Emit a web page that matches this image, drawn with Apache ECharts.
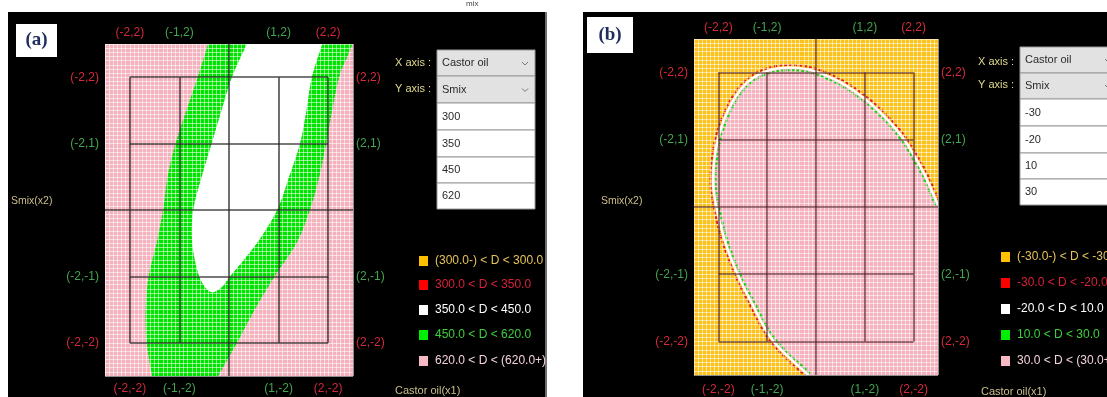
<!DOCTYPE html>
<html>
<head>
<meta charset="utf-8">
<script src="https://cdn.jsdelivr.net/npm/echarts@6/dist/echarts.min.js"></script>
<style>
  html, body { margin: 0; padding: 0; background: #ffffff; }
  #chart { width: 1107px; height: 397px; }
</style>
</head>
<body>
<div id="chart"></div>
<script>
// ---- Coded factor positions (x1 = Castor oil, x2 = Smix) ----
const tickValues = [-2, -1, 1, 2];
const gridLevels = [-2, -1, 0, 1, 2];

// ---- Panel (a): contour boundaries [x1, x2] ----
// left edge of the 450-620 band (top to bottom)
const aOuterLeft = [[-0.42, 2.5], [-0.63, 2.0], [-0.86, 1.5], [-1.08, 1.0], [-1.24, 0.5], [-1.33, 0.0],
  [-1.46, -0.5], [-1.62, -1.0], [-1.68, -1.5], [-1.66, -2.0], [-1.55, -2.5]];
// right edge of the 450-620 band (bottom to top)
const aOuterRight = [[-0.22, -2.5], [0.16, -2.0], [0.52, -1.5], [0.92, -1.0], [1.36, -0.5], [1.63, 0.0],
  [1.82, 0.5], [1.96, 1.0], [2.08, 1.5], [2.22, 2.0], [2.38, 2.3], [2.52, 2.55]];
// 350-450 region (left side down, round the tip, right side up)
const aInner = [[0.36, 2.5], [0.06, 2.0], [-0.15, 1.5], [-0.35, 1.0], [-0.55, 0.5], [-0.72, 0.0],
  [-0.74, -0.5], [-0.6, -1.0], [-0.38, -1.23], [-0.16, -1.17], [0.02, -1.0], [0.56, -0.5],
  [0.97, 0.0], [1.21, 0.5], [1.43, 1.0], [1.56, 1.5], [1.67, 2.0], [1.88, 2.5]];

// ---- Panel (b): boundary of the 30+ region (bottom edge, up the left, over the top, to the right edge) ----
const bCurve = [[-0.16, -2.5], [-0.88, -1.99], [-1.33, -1.41], [-1.62, -0.98], [-1.86, -0.52],
  [-2.03, -0.04], [-2.11, 0.4], [-2.03, 0.95], [-1.82, 1.41], [-1.52, 1.77], [-1.15, 1.98],
  [-0.68, 2.07], [-0.12, 2.04], [0.49, 1.86], [1.0, 1.61], [1.41, 1.34], [1.78, 1.03],
  [2.03, 0.74], [2.24, 0.46], [2.5, 0.03]];

// ---- Selector and legend texts ----
const factorNames = ['Castor oil', 'Smix'];
const levelsA = ['300', '350', '450', '620'];
const levelsB = ['-30', '-20', '10', '30'];
const legendA = ['(300.0-) < D < 300.0', '300.0 < D < 350.0', '350.0 < D < 450.0', '450.0 < D < 620.0', '620.0 < D < (620.0+)'];
const legendB = ['(-30.0-) < D < -30.0', '-30.0 < D < -20.0', '-20.0 < D < 10.0', '10.0 < D < 30.0', '30.0 < D < (30.0+)'];

// ---- Colours ----
const SWATCH = ['#ffc000', '#ff0000', '#ffffff', '#00ee00', '#f7b9c4'];
const LEGEND_TEXT = ['#e6c35a', '#d8203a', '#ffffff', '#3ccf3c', '#f3d2d8'];
const FILL_PINK = '#f3b2bd';
const FILL_GREEN = '#00e400';
const FILL_YELLOW = '#fbc21c';
const LBL_RED = '#d42a3c';
const LBL_GREEN = '#43a54f';
const TAN = '#cdbf8a';
const AXIS_TXT = '#e0da8e';
const FONT = 'Liberation Sans';
const TEXTURE = 'rgba(255,255,255,0.55)';

// Catmull-Rom smoothing of a pixel polyline
function smoothPts(pts, steps) {
  const out = [];
  const n = pts.length;
  for (let i = 0; i < n - 1; i++) {
    const p0 = pts[Math.max(i - 1, 0)], p1 = pts[i], p2 = pts[i + 1], p3 = pts[Math.min(i + 2, n - 1)];
    for (let s = 0; s < steps; s++) {
      const t = s / steps, t2 = t * t, t3 = t2 * t;
      const f = k => 0.5 * (2 * p1[k] + (-p0[k] + p2[k]) * t + (2 * p0[k] - 5 * p1[k] + 4 * p2[k] - p3[k]) * t2 + (-p0[k] + 3 * p1[k] - 3 * p2[k] + p3[k]) * t3);
      out.push([f(0), f(1)]);
    }
  }
  out.push(pts[n - 1]);
  return out;
}
// shift a pixel polyline sideways by d pixels (positive = left of travel on screen)
function shiftPts(pts, d) {
  return pts.map((p, i) => {
    const a = pts[Math.max(i - 1, 0)], b = pts[Math.min(i + 1, pts.length - 1)];
    const tx = b[0] - a[0], ty = b[1] - a[1];
    const l = Math.hypot(tx, ty) || 1;
    return [p[0] + d * ty / l, p[1] - d * tx / l];
  });
}

function renderA(params, api) {
  const cs = params.coordSys;
  const top = cs.y - 4, bottom = cs.y + cs.height + 4;
  const L = smoothPts(aOuterLeft.map(p => api.coord(p)), 8);
  const R = smoothPts(aOuterRight.map(p => api.coord(p)), 8);
  const W = smoothPts(aInner.map(p => api.coord(p)), 8);
  const green = [[L[0][0], top]].concat(L, [[L[L.length - 1][0], bottom], [R[0][0], bottom]], R, [[R[R.length - 1][0] + 4, top]]);
  const white = [[W[0][0], top]].concat(W, [[W[W.length - 1][0], top]]);
  return {
    type: 'group',
    children: [
      { type: 'polygon', shape: { points: green }, style: { fill: FILL_GREEN } },
      { type: 'polygon', shape: { points: white }, style: { fill: '#ffffff' } }
    ]
  };
}

function renderB(params, api) {
  const cs = params.coordSys;
  const right = cs.x + cs.width + 4, bottom = cs.y + cs.height + 4;
  const C = smoothPts(bCurve.map(p => api.coord(p)), 10);
  const first = C[0], last = C[C.length - 1];
  const poly = [[first[0], bottom]].concat(C, [[right, last[1]], [right, bottom]]);
  return {
    type: 'group',
    children: [
      { type: 'polygon', shape: { points: poly }, style: { fill: FILL_PINK } },
      { type: 'polyline', shape: { points: shiftPts(C, 2.6) }, style: { stroke: '#e0202e', lineWidth: 2, fill: 'none', lineDash: [3, 2] } },
      { type: 'polyline', shape: { points: C }, style: { stroke: '#ffffff', lineWidth: 2.2, fill: 'none' } },
      { type: 'polyline', shape: { points: shiftPts(C, -2.6) }, style: { stroke: '#14d414', lineWidth: 2, fill: 'none', lineDash: [3, 2] } }
    ]
  };
}

// reference frame: box lines at -2..2, the zero lines run edge to edge
function frameSegments() {
  const segs = [];
  gridLevels.forEach(v => {
    const ext = v === 0 ? 2.5 : 2;
    segs.push({ coords: [[v, -ext], [v, ext]] });
    segs.push({ coords: [[-ext, v], [ext, v]] });
  });
  return segs;
}

const richLabels = {
  r: { color: LBL_RED, fontSize: 12, fontFamily: FONT },
  g: { color: LBL_GREEN, fontSize: 12, fontFamily: FONT }
};
const tag = (v, text) => `{${Math.abs(v) === 1 ? 'g' : 'r'}|${text}}`;

function xMain(gridIndex, margin) {
  return {
    type: 'value', gridIndex, position: 'bottom', min: -2.5, max: 2.5, interval: 0.5, z: 4,
    axisLine: { show: false }, axisTick: { show: false },
    axisLabel: { customValues: tickValues, margin, formatter: v => tag(v, `(${v},-2)`), rich: richLabels },
    splitLine: { show: true, lineStyle: { color: TEXTURE, width: 1 } },
    minorTick: { show: false, splitNumber: 6 },
    minorSplitLine: { show: true, lineStyle: { color: TEXTURE, width: 1 } }
  };
}
function xTop(gridIndex, margin) {
  return {
    type: 'value', gridIndex, position: 'top', min: -2.5, max: 2.5, interval: 0.5, z: 4,
    axisLine: { show: false }, axisTick: { show: false }, splitLine: { show: false },
    axisLabel: { customValues: tickValues, margin, formatter: v => tag(v, `(${v},2)`), rich: richLabels }
  };
}
function yMain(gridIndex, margin) {
  return {
    type: 'value', gridIndex, position: 'left', min: -2.5, max: 2.5, interval: 0.5, z: 4,
    axisLine: { show: false }, axisTick: { show: false },
    axisLabel: { customValues: tickValues, margin, formatter: v => tag(v, `(-2,${v})`), rich: richLabels },
    splitLine: { show: true, lineStyle: { color: TEXTURE, width: 1 } },
    minorTick: { show: false, splitNumber: 8 },
    minorSplitLine: { show: true, lineStyle: { color: TEXTURE, width: 1 } }
  };
}
function yRight(gridIndex, margin) {
  return {
    type: 'value', gridIndex, position: 'right', min: -2.5, max: 2.5, interval: 0.5, z: 4,
    axisLine: { show: false }, axisTick: { show: false }, splitLine: { show: false },
    axisLabel: { customValues: tickValues, margin, formatter: v => tag(v, `(2,${v})`), rich: richLabels }
  };
}

function txt(text, x, y, color, size, extra) {
  return Object.assign({
    type: 'text', z: 10,
    style: { text, x, y, fill: color, fontSize: size, fontFamily: FONT,
      align: 'left', verticalAlign: 'middle', textAlign: 'left', textVerticalAlign: 'middle' }
  }, extra || {});
}

// factor selector box with two dropdown rows and four level rows
function selector(x, w, rows, values, labelX, labelYs) {
  const els = [];
  els.push(txt('X axis :', labelX, labelYs[0], AXIS_TXT, 11));
  els.push(txt('Y axis :', labelX, labelYs[1], AXIS_TXT, 11));
  const texts = factorNames.concat(values);
  rows.forEach((r, i) => {
    els.push({ type: 'rect', z: 9, shape: { x, y: r[0], width: w, height: r[1] - r[0] },
      style: { fill: i < 2 ? '#e2e2e2' : '#ffffff', stroke: '#9a9a9a', lineWidth: 1 } });
    els.push(txt(texts[i], x + 5, (r[0] + r[1]) / 2, '#2a2a2a', 11));
    if (i < 2) {
      const cx = x + 88, cy = (r[0] + r[1]) / 2;
      els.push({ type: 'polyline', z: 10, shape: { points: [[cx - 3, cy - 1], [cx, cy + 2], [cx + 3, cy - 1]] },
        style: { stroke: '#777', lineWidth: 1, fill: 'none' } });
    }
  });
  return els;
}

function legendBlock(x, ys, labels) {
  const els = [];
  labels.forEach((t, i) => {
    els.push({ type: 'rect', z: 10, shape: { x, y: ys[i] - 5, width: 9, height: 10 }, style: { fill: SWATCH[i] } });
    els.push(txt(t, x + 16, ys[i], LEGEND_TEXT[i], 12));
  });
  return els;
}

const graphicEls = [
  // panel backgrounds
  { type: 'rect', z: -10, shape: { x: 8, y: 12, width: 538, height: 385 }, style: { fill: '#000000' } },
  { type: 'rect', z: -9, shape: { x: 545, y: 12, width: 2, height: 385 }, style: { fill: '#6e6e6e' } },
  { type: 'rect', z: -10, shape: { x: 583, y: 12, width: 524, height: 385 }, style: { fill: '#000000' } },
  // caption fragment
  txt('mix', 466, 4, '#444444', 8),
  // panel tags
  { type: 'rect', z: 10, shape: { x: 16, y: 24, width: 41, height: 33 }, style: { fill: '#ffffff' } },
  txt('(a)', 36.5, 40.5, '#1f2d5c', 19, { style: { text: '(a)', x: 36.5, y: 40.5, fill: '#1f2d5c', fontSize: 19, fontWeight: 'bold', fontFamily: 'Liberation Serif', align: 'center', verticalAlign: 'middle', textAlign: 'center', textVerticalAlign: 'middle' } }),
  { type: 'rect', z: 10, shape: { x: 587, y: 17, width: 46, height: 36 }, style: { fill: '#ffffff' } },
  txt('(b)', 610, 35, '#1f2d5c', 19, { style: { text: '(b)', x: 610, y: 35, fill: '#1f2d5c', fontSize: 19, fontWeight: 'bold', fontFamily: 'Liberation Serif', align: 'center', verticalAlign: 'middle', textAlign: 'center', textVerticalAlign: 'middle' } }),
  // axis titles
  txt('Smix(x2)', 11, 201, TAN, 10.5),
  txt('Castor oil(x1)', 395, 391, TAN, 11),
  txt('Smix(x2)', 601, 201, TAN, 10.5),
  txt('Castor oil(x1)', 981, 392, TAN, 11)
]
  .concat(selector(437, 98, [[50, 76], [76, 103], [103, 130], [130, 157], [157, 183], [183, 209]], levelsA, 395, [63, 89]))
  .concat(selector(1020, 98, [[47, 73], [73, 99], [99, 126], [126, 153], [153, 179], [179, 205]], levelsB, 978, [62, 85]))
  .concat(legendBlock(419, [261, 285, 310, 335, 361], legendA))
  .concat(legendBlock(1001, [257, 283, 309, 335, 361], legendB));

const option = {
  animation: false,
  backgroundColor: '#ffffff',
  graphic: { elements: graphicEls },
  grid: [
    { left: 105, top: 44, width: 248, height: 332, show: true, backgroundColor: FILL_PINK, borderWidth: 0 },
    { left: 694, top: 39, width: 244, height: 336, show: true, backgroundColor: FILL_YELLOW, borderWidth: 0 }
  ],
  xAxis: [xMain(0, 7), xTop(0, 5), xMain(1, 9), xTop(1, 5)],
  yAxis: [yMain(0, 6), yRight(0, 3), yMain(1, 6), yRight(1, 3)],
  series: [
    { type: 'custom', xAxisIndex: 0, yAxisIndex: 0, coordinateSystem: 'cartesian2d', clip: true, silent: true,
      data: [[0, 0]], renderItem: renderA, z: 2 },
    { type: 'lines', xAxisIndex: 0, yAxisIndex: 0, coordinateSystem: 'cartesian2d', silent: true, z: 6,
      lineStyle: { color: 'rgba(30,30,30,0.8)', width: 1.6, opacity: 1 }, data: frameSegments() },
    { type: 'custom', xAxisIndex: 2, yAxisIndex: 2, coordinateSystem: 'cartesian2d', clip: true, silent: true,
      data: [[0, 0]], renderItem: renderB, z: 2 },
    { type: 'lines', xAxisIndex: 2, yAxisIndex: 2, coordinateSystem: 'cartesian2d', silent: true, z: 6,
      lineStyle: { color: 'rgba(70,20,25,0.7)', width: 1.6, opacity: 1 }, data: frameSegments() }
  ]
};

echarts.init(document.getElementById('chart'), null, { renderer: 'canvas' }).setOption(option);
</script>
</body>
</html>
